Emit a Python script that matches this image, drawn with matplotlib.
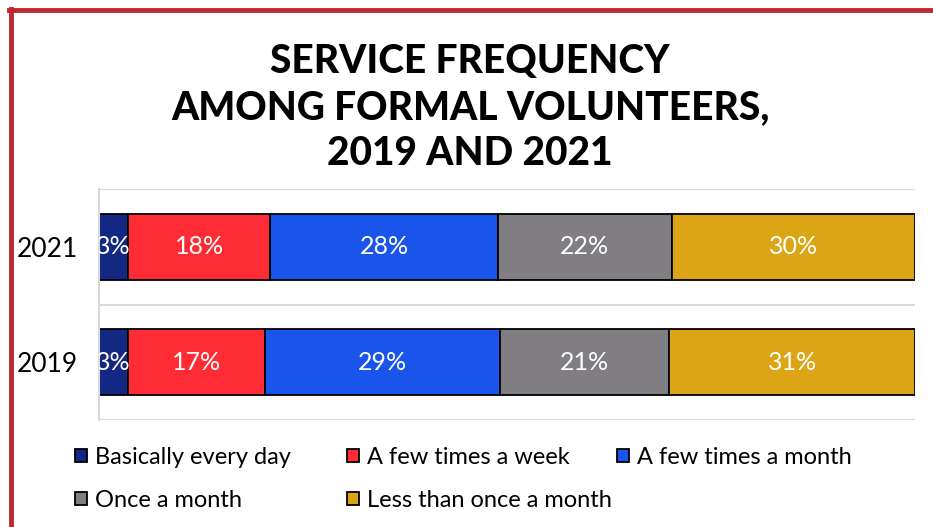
import numpy as np
import matplotlib.pyplot as plt
from matplotlib.lines import Line2D

# data (shares, labels as printed)
years = ['2019', '2021']
categories = ['Basically every day', 'A few times a week', 'A few times a month',
              'Once a month', 'Less than once a month']
shares_2019 = [3.6, 16.7, 28.8, 20.8, 30.1]
shares_2021 = [3.6, 17.4, 27.9, 21.3, 29.8]
labels_2019 = ['3%', '17%', '29%', '21%', '31%']
labels_2021 = ['3%', '18%', '28%', '22%', '30%']
colors = ['#132882', '#FF2C35', '#1955EA', '#807D83', '#DCA516']

plt.rcParams['font.family'] = ['Lato', 'DejaVu Sans']

fig = plt.figure(figsize=(9.33, 5.27), dpi=100)
ax = fig.add_axes([0.1061, 0.2030, 0.8746, 0.4384])

data = np.array([shares_2019, shares_2021])
labels = [labels_2019, labels_2021]
y = np.arange(len(years))
left = np.zeros(len(years))
bars = []
for i, cat in enumerate(categories):
    b = ax.barh(y, data[:, i], left=left, height=0.57, color=colors[i],
                edgecolor='black', linewidth=1.3, label=cat)
    bars.append(b)
    for j in range(len(years)):
        t = ax.text(left[j] + data[j, i] / 2, y[j], labels[j][i],
                    ha='center', va='center', color='white', fontsize=18)
        t.set_clip_on(True)
    left += data[:, i]

ax.set_xlim(0, data.sum(axis=1).max())
ax.set_ylim(-0.5, 1.5)
ax.set_yticks(y)
ax.set_yticklabels(years, fontsize=19)
ax.tick_params(axis='y', length=0, pad=15)
ax.set_xticks([])
for s in ['top', 'right', 'bottom']:
    ax.spines[s].set_visible(False)
ax.spines['left'].set_color('#D9D9D9')
ax.spines['left'].set_linewidth(1.5)
for g in [-0.5, 0.5, 1.5]:
    ax.axhline(g, color='#D9D9D9', linewidth=1.5, zorder=0)

# title
fig.text(0.504, 0.796, 'SERVICE FREQUENCY\nAMONG FORMAL VOLUNTEERS,\n2019 AND 2021',
         ha='center', va='center', fontsize=28, fontweight='black', linespacing=1.3)

# legend laid out in fixed columns, row by row
cols = [[0, 3], [1, 4], [2]]
xs = [0.0805, 0.372, 0.661]
for c, x in zip(cols, xs):
    fig.legend([bars[k] for k in c], [categories[k] for k in c],
               loc='upper left', bbox_to_anchor=(x, 0.152), frameon=False,
               fontsize=17, handlelength=0.5, handleheight=0.5,
               handletextpad=0.35, labelspacing=0.92, borderpad=0, borderaxespad=0)

# red frame on left and top
red = '#C1272D'
fig.add_artist(Line2D([0.0115, 0.0115], [0, 0.983], color=red, linewidth=3.5,
                      transform=fig.transFigure))
fig.add_artist(Line2D([0.0095, 1], [0.981, 0.981], color=red, linewidth=3.5,
                      transform=fig.transFigure))

fig.savefig('out.png', dpi=100)
